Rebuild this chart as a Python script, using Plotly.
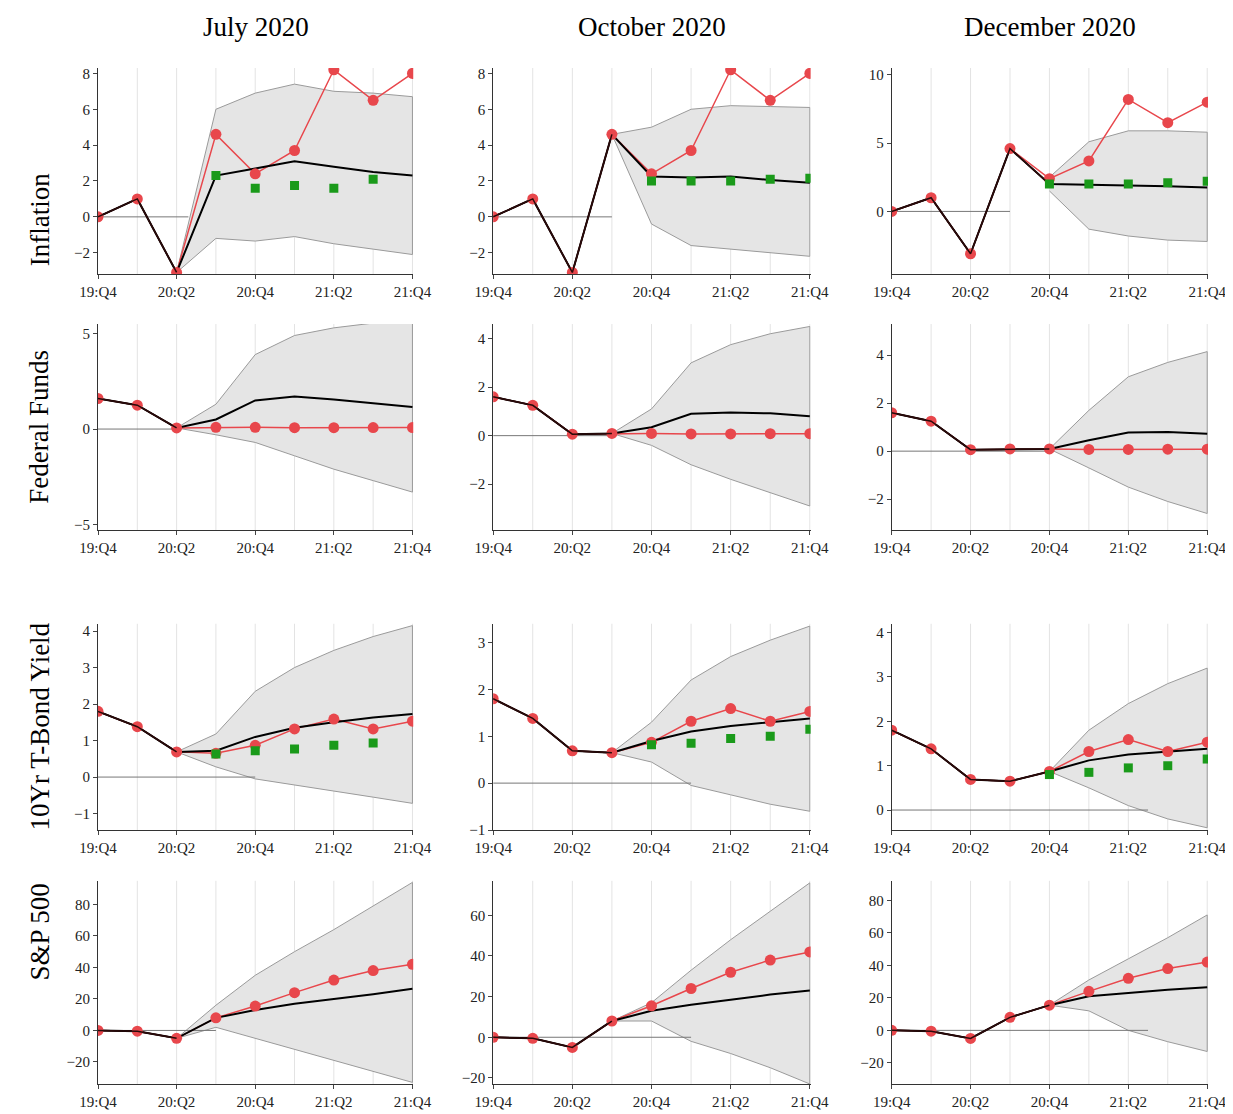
import plotly.graph_objects as go
from plotly.subplots import make_subplots

quarters = ["19:Q4", "20:Q1", "20:Q2", "20:Q3", "20:Q4", "21:Q1", "21:Q2", "21:Q3", "21:Q4"]
columns = ["July 2020", "October 2020", "December 2020"]
variables = ["Inflation", "Federal Funds", "10Yr T-Bond Yield", "S&P 500"]
starts = [2, 3, 4]  # index where the forecast begins, per column

actual = {
    "Inflation": [0, 1, -3.1, 4.6, 2.4, 3.7, 8.2, 6.5, 8.0],
    "Federal Funds": [1.6, 1.25, 0.06, 0.09, 0.09, 0.07, 0.07, 0.08, 0.08],
    "10Yr T-Bond Yield": [1.8, 1.38, 0.69, 0.65, 0.87, 1.32, 1.59, 1.32, 1.53],
    "S&P 500": [0, -0.5, -5, 8, 15.5, 24, 32, 38, 42],
}

# median / upper / lower from the start index to 21:Q4
median = {
    ("Inflation", 0): [-3.1, 2.3, 2.7, 3.1, 2.8, 2.5, 2.3],
    ("Inflation", 1): [4.6, 2.25, 2.2, 2.25, 2.05, 1.9],
    ("Inflation", 2): [2.0, 1.95, 1.95, 1.85, 1.75],
    ("Federal Funds", 0): [0.06, 0.5, 1.5, 1.7, 1.55, 1.35, 1.15],
    ("Federal Funds", 1): [0.09, 0.35, 0.9, 0.95, 0.92, 0.8],
    ("Federal Funds", 2): [0.09, 0.45, 0.78, 0.8, 0.72],
    ("10Yr T-Bond Yield", 0): [0.69, 0.72, 1.1, 1.35, 1.5, 1.63, 1.73],
    ("10Yr T-Bond Yield", 1): [0.65, 0.9, 1.1, 1.22, 1.3, 1.38],
    ("10Yr T-Bond Yield", 2): [0.87, 1.12, 1.25, 1.32, 1.38],
    ("S&P 500", 0): [-5, 8, 13, 17, 20, 23, 26.5],
    ("S&P 500", 1): [8, 13, 16, 18.5, 21, 23],
    ("S&P 500", 2): [15.5, 21, 23, 25, 26.5],
}
upper = {
    ("Inflation", 0): [-3.1, 6.0, 6.9, 7.4, 7.0, 6.9, 6.7],
    ("Inflation", 1): [4.6, 5.0, 6.0, 6.2, 6.15, 6.1],
    ("Inflation", 2): [2.5, 5.1, 5.9, 5.9, 5.8],
    ("Federal Funds", 0): [0.06, 1.3, 3.9, 4.9, 5.3, 5.55, 5.7],
    ("Federal Funds", 1): [0.09, 1.1, 3.0, 3.75, 4.2, 4.5],
    ("Federal Funds", 2): [0.09, 1.7, 3.1, 3.7, 4.15],
    ("10Yr T-Bond Yield", 0): [0.69, 1.18, 2.35, 3.0, 3.47, 3.85, 4.15],
    ("10Yr T-Bond Yield", 1): [0.65, 1.3, 2.2, 2.7, 3.05, 3.35],
    ("10Yr T-Bond Yield", 2): [0.87, 1.8, 2.4, 2.85, 3.2],
    ("S&P 500", 0): [-5, 16, 35, 50, 64, 79, 94],
    ("S&P 500", 1): [8, 17, 33, 48, 62, 76],
    ("S&P 500", 2): [15.5, 31, 44, 57, 71],
}
lower = {
    ("Inflation", 0): [-3.1, -1.2, -1.35, -1.1, -1.5, -1.8, -2.1],
    ("Inflation", 1): [4.6, -0.4, -1.6, -1.8, -2.0, -2.2],
    ("Inflation", 2): [1.5, -1.3, -1.8, -2.1, -2.2],
    ("Federal Funds", 0): [0.06, -0.3, -0.7, -1.4, -2.1, -2.7, -3.3],
    ("Federal Funds", 1): [0.09, -0.4, -1.2, -1.8, -2.35, -2.9],
    ("Federal Funds", 2): [0.09, -0.7, -1.5, -2.1, -2.6],
    ("10Yr T-Bond Yield", 0): [0.69, 0.28, -0.05, -0.22, -0.38, -0.55, -0.72],
    ("10Yr T-Bond Yield", 1): [0.65, 0.45, -0.05, -0.25, -0.45, -0.6],
    ("10Yr T-Bond Yield", 2): [0.87, 0.5, 0.1, -0.2, -0.4],
    ("S&P 500", 0): [-5, 2, -5, -12, -19, -26, -33],
    ("S&P 500", 1): [8, 8, -2, -8, -15, -23],
    ("S&P 500", 2): [15.5, 12, 0, -7, -13],
}
# green squares, from the quarter after the start
survey = {
    ("Inflation", 0): [2.3, 1.6, 1.75, 1.6, 2.1],
    ("Inflation", 1): [2.0, 2.0, 2.0, 2.1, 2.15],
    ("Inflation", 2): [2.0, 2.0, 2.0, 2.1, 2.2],
    ("10Yr T-Bond Yield", 0): [0.63, 0.72, 0.77, 0.87, 0.93],
    ("10Yr T-Bond Yield", 1): [0.82, 0.85, 0.95, 1.0, 1.15],
    ("10Yr T-Bond Yield", 2): [0.8, 0.85, 0.95, 1.0, 1.15],
}
survey_offset = {0: 1, 1: 1, 2: 0}
zero_end = {
    ("Inflation", 0): 2.3, ("Inflation", 1): 3, ("Inflation", 2): 3,
    ("Federal Funds", 0): 2, ("Federal Funds", 1): 3, ("Federal Funds", 2): 4,
    ("10Yr T-Bond Yield", 0): 4, ("10Yr T-Bond Yield", 1): 5, ("10Yr T-Bond Yield", 2): 6.5,
    ("S&P 500", 0): 3, ("S&P 500", 1): 5, ("S&P 500", 2): 6.5,
}
yranges = {
    ("Inflation", 0): [-3.2, 8.3], ("Inflation", 1): [-3.2, 8.3], ("Inflation", 2): [-4.6, 10.5],
    ("Federal Funds", 0): [-5.3, 5.5], ("Federal Funds", 1): [-3.9, 4.6], ("Federal Funds", 2): [-3.3, 5.3],
    ("10Yr T-Bond Yield", 0): [-1.45, 4.2], ("10Yr T-Bond Yield", 1): [-1.0, 3.4], ("10Yr T-Bond Yield", 2): [-0.45, 4.2],
    ("S&P 500", 0): [-34, 95], ("S&P 500", 1): [-23, 77], ("S&P 500", 2): [-33, 92],
}
ydtick = {"Inflation": 2, "Federal Funds": 5, "10Yr T-Bond Yield": 1, "S&P 500": 20}
ydtick_col = {("Inflation", 2): 5, ("Federal Funds", 1): 2, ("Federal Funds", 2): 2}

RED = "#e8474c"
fig = make_subplots(rows=4, cols=3)
row_domains = [[0.797, 1.0], [0.545, 0.748], [0.25, 0.453], [0.0, 0.2]]
col_domains = [[0.0, 0.284], [0.356, 0.642], [0.715, 1.0]]
x = list(range(9))
serif = "Liberation Serif"

for r, var in enumerate(variables):
    for c in range(3):
        k = (var, c)
        s = starts[c]
        xs = x[s:]
        # band
        fig.add_trace(go.Scatter(x=xs + xs[::-1], y=upper[k] + lower[k][::-1], fill="toself",
                                 fillcolor="#e5e5e5", line=dict(color="#9a9a9a", width=1),
                                 mode="lines", hoverinfo="skip", showlegend=False), row=r + 1, col=c + 1)
        fig.add_trace(go.Scatter(x=[0, zero_end[k]], y=[0, 0], mode="lines",
                                 line=dict(color="#777", width=1), showlegend=False), row=r + 1, col=c + 1)
        fig.add_trace(go.Scatter(x=x, y=actual[var], mode="lines", line=dict(color=RED, width=1.5),
                                 showlegend=False), row=r + 1, col=c + 1)
        black = actual[var][:s] + median[k]
        fig.add_trace(go.Scatter(x=x, y=black, mode="lines", line=dict(color="black", width=2),
                                 showlegend=False), row=r + 1, col=c + 1)
        fig.add_trace(go.Scatter(x=x, y=actual[var], mode="markers",
                                 marker=dict(size=11, color=RED), showlegend=False), row=r + 1, col=c + 1)
        fig.add_trace(go.Scatter(x=x[:s + 1], y=black[:s + 1], mode="lines",
                                 line=dict(color="#2a0a0a", width=1.5), showlegend=False), row=r + 1, col=c + 1)
        if k in survey:
            sx = x[s + survey_offset[c]:][:len(survey[k])]
            fig.add_trace(go.Scatter(x=sx, y=survey[k], mode="markers",
                                     marker=dict(symbol="square", size=9, color="#1a9a1a"),
                                     showlegend=False), row=r + 1, col=c + 1)
        fig.update_xaxes(domain=col_domains[c], range=[0, 8.02], tickvals=[0, 2, 4, 6, 8],
                         ticktext=[quarters[i] for i in [0, 2, 4, 6, 8]], showgrid=False,
                         zeroline=False, showline=True, linecolor="#333", ticks="outside",
                         ticklen=4, tickfont=dict(family=serif, size=15, color="#222"),
                         row=r + 1, col=c + 1)
        fig.update_yaxes(domain=row_domains[r], range=yranges[k], dtick=ydtick_col.get(k, ydtick[var]),
                         showgrid=False, zeroline=False, showline=True, linecolor="#333",
                         ticks="outside", ticklen=4, tickfont=dict(family=serif, size=15, color="#222"),
                         row=r + 1, col=c + 1)
        for i in range(1, 9):
            fig.add_vline(x=i, line=dict(color="#e3e3e3", width=1), layer="below", row=r + 1, col=c + 1)

anns = []
for c, name in enumerate(columns):
    anns.append(dict(text=name, x=sum(col_domains[c]) / 2, y=1.04, xref="paper", yref="paper",
                     showarrow=False, xanchor="center", yanchor="middle",
                     font=dict(family=serif, size=27, color="black")))
for r, var in enumerate(variables):
    anns.append(dict(text=var, x=-0.068, y=sum(row_domains[r]) / 2, xref="paper", yref="paper",
                     showarrow=False, textangle=-90, font=dict(family=serif, size=27, color="black")))
fig.update_layout(width=1233, height=1114, margin=dict(l=90, r=33, t=60, b=31),
                  plot_bgcolor="white", paper_bgcolor="white", annotations=anns)
fig.write_html("out.html")
